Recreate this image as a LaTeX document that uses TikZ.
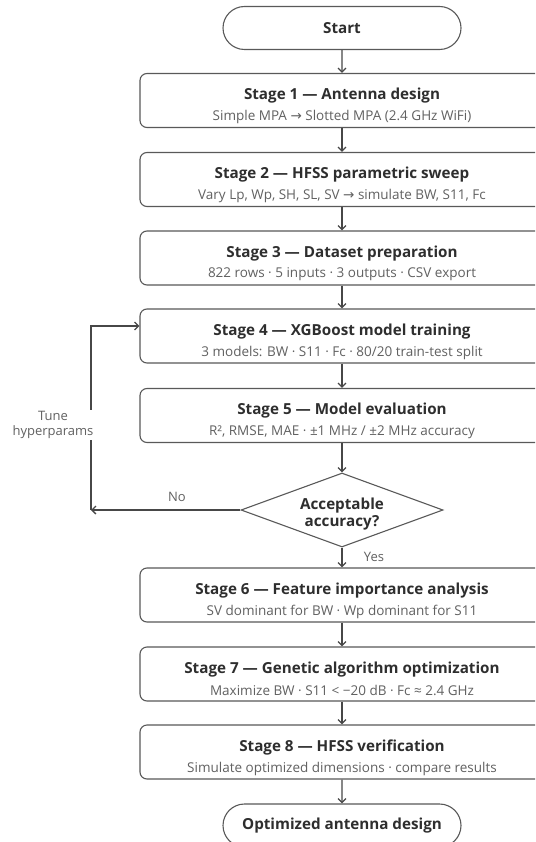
\documentclass[tikz,border=0pt]{standalone}
\usepackage{fontspec}
\setmainfont{Open Sans}
\newfontfamily\symfont{DejaVu Sans}
\usetikzlibrary{arrows.meta,shapes.geometric,shapes.misc}
\definecolor{boxline}{HTML}{595959}
\definecolor{arrowline}{HTML}{474747}
\definecolor{titlecol}{HTML}{2E2E2E}
\definecolor{subcol}{HTML}{616161}
\newcommand{\rarr}{{\symfont →}}
\begin{document}
\begin{tikzpicture}[x=1pt,y=-1pt,
  stagebox/.style={draw=boxline, line width=1.1pt, rounded corners=7pt, minimum width=404pt, minimum height=54pt, inner sep=0pt},
  termbox/.style={draw=boxline, line width=1.1pt, rounded rectangle, minimum width=238pt, minimum height=43pt, inner sep=0pt, font=\bfseries\fontsize{15.2}{17}\selectfont, text=titlecol},
  decbox/.style={draw=boxline, line width=1.1pt, diamond, aspect=2.73, minimum width=202pt, minimum height=74pt, inner sep=0pt},
  ttl/.style={font=\bfseries\fontsize{15.2}{17}\selectfont, text=titlecol, inner sep=0pt},
  sub/.style={font=\fontsize{13.5}{15}\selectfont, text=subcol, inner sep=0pt},
  lbl/.style={font=\fontsize{13}{15}\selectfont, text=subcol, inner sep=1pt, align=center},
  flow/.style={draw=arrowline, line width=1.3pt, -{Straight Barb[length=4pt,width=8pt,line width=1.3pt]}}
]
\useasboundingbox (0,0) rectangle (535,842);
\clip (0,0) rectangle (535,842);
\fill[white] (0,0) rectangle (535,842);

\node[termbox] (start) at (342,28) {Start};

\node[stagebox] (s1) at (342,100.5) {};
\node[ttl] (s1t) at (342,96) {Stage 1 — Antenna design};
\node[sub] (s1s) at (342,117) {Simple MPA \rarr{} Slotted MPA (2.4 GHz WiFi)};

\node[stagebox] (s2) at (342,179.5) {};
\node[ttl] (s2t) at (342,175) {Stage 2 — HFSS parametric sweep};
\node[sub] (s2s) at (342,196) {Vary Lp, Wp, SH, SL, SV \rarr{} simulate BW, S11, Fc};

\node[stagebox] (s3) at (342,258) {};
\node[ttl] (s3t) at (342,253.5) {Stage 3 — Dataset preparation};
\node[sub] (s3s) at (342,274.5) {822 rows · 5 inputs · 3 outputs · CSV export};

\node[stagebox] (s4) at (342,336) {};
\node[ttl] (s4t) at (342,331.5) {Stage 4 — XGBoost model training};
\node[sub] (s4s) at (342,352.5) {3 models: BW · S11 · Fc · 80/20 train-test split};

\node[stagebox] (s5) at (342,415.5) {};
\node[ttl] (s5t) at (342,411) {Stage 5 — Model evaluation};
\node[sub] (s5s) at (342,432) {R², RMSE, MAE · ±1 MHz / ±2 MHz accuracy};

\node[decbox] (dec) at (342,510) {};
\node[ttl, align=center] (dect) at (342,514) {Acceptable\\accuracy?};

\node[stagebox] (s6) at (342,595) {};
\node[ttl] (s6t) at (342,590.5) {Stage 6 — Feature importance analysis};
\node[sub] (s6s) at (342,611.5) {SV dominant for BW · Wp dominant for S11};

\node[stagebox] (s7) at (342,674) {};
\node[ttl] (s7t) at (342,669.5) {Stage 7 — Genetic algorithm optimization};
\node[sub] (s7s) at (342,690.5) {Maximize BW · S11 < −20 dB · Fc ≈ 2.4 GHz};

\node[stagebox] (s8) at (342,752) {};
\node[ttl] (s8t) at (342,747.5) {Stage 8 — HFSS verification};
\node[sub] (s8s) at (342,768.5) {Simulate optimized dimensions · compare results};

\node[termbox] (end) at (342,825.5) {Optimized antenna design};

\draw[flow] (start) -- (s1);
\draw[flow] (s1) -- (s2);
\draw[flow] (s2) -- (s3);
\draw[flow] (s3) -- (s4);
\draw[flow] (s4) -- (s5);
\draw[flow] (s5) -- (dec);
\draw[flow] (dec) -- (s6);
\draw[flow] (s6) -- (s7);
\draw[flow] (s7) -- (s8);
\draw[flow] (s8) -- (end);

\coordinate (loopc) at (91,510);
\coordinate (loopy) at (0,326);
\draw[flow] (dec.west) -- (loopc);
\draw[flow] (loopc) |- (s4.west |- loopy);

\node[lbl, fill=white] (tune) at (53,425) {Tune\\hyperparams};
\node[lbl] (no) at (177,497) {No};
\node[lbl] (yes) at (374,557) {Yes};
\end{tikzpicture}
\end{document}
